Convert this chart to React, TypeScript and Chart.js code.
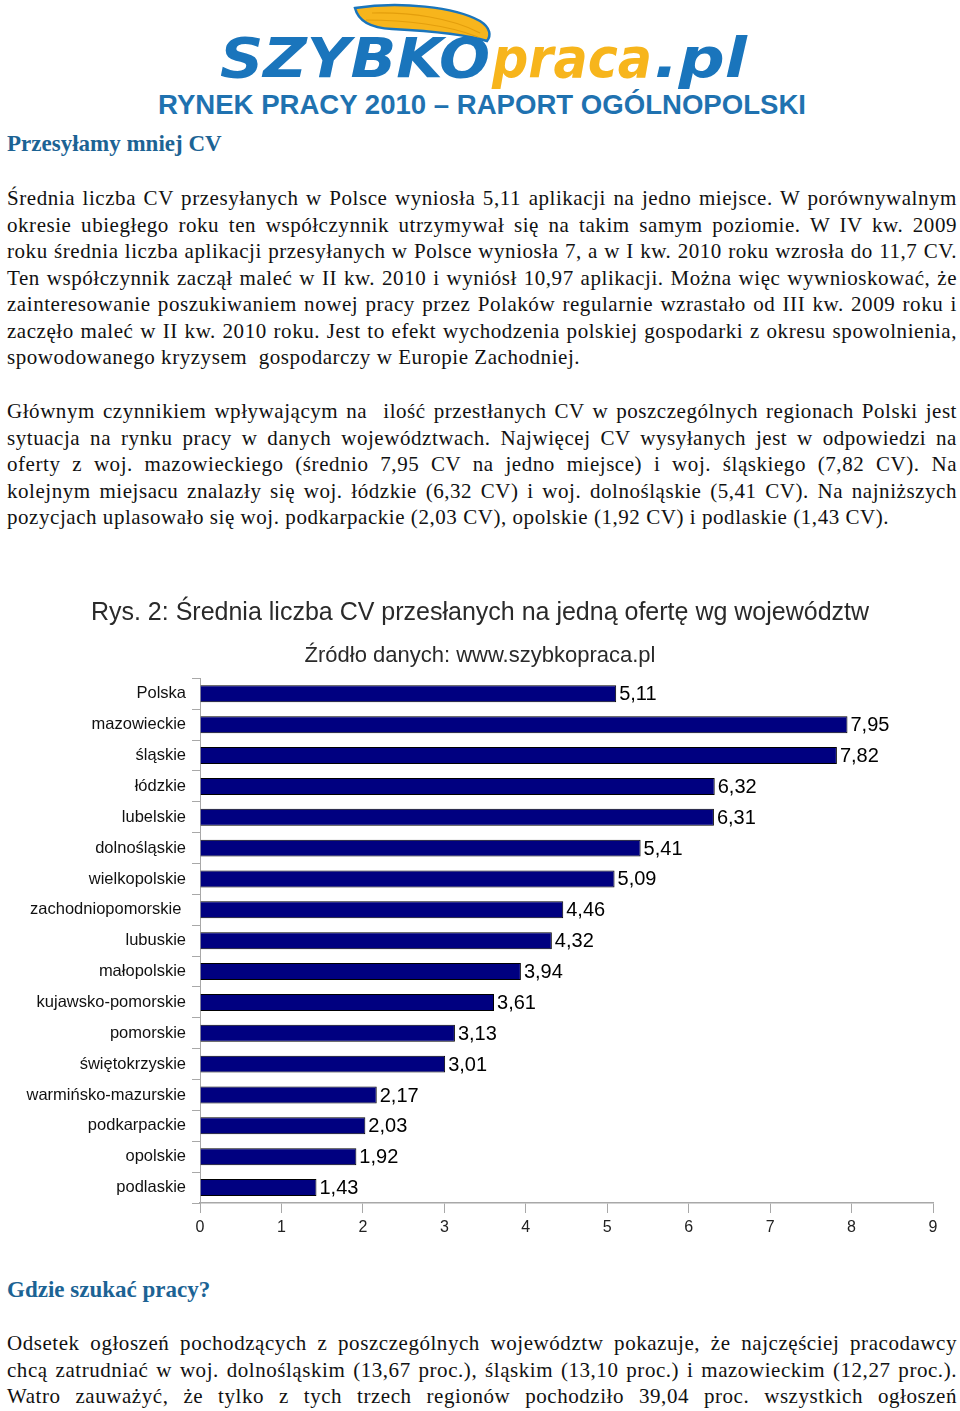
import React, { useEffect, useRef } from "react";
import { Chart, registerables } from "chart.js";

Chart.register(...registerables);

const categories = [
  "Polska", "mazowieckie", "śląskie", "łódzkie", "lubelskie", "dolnośląskie",
  "wielkopolskie", "zachodniopomorskie ", "lubuskie", "małopolskie",
  "kujawsko-pomorskie", "pomorskie", "świętokrzyskie", "warmińsko-mazurskie",
  "podkarpackie", "opolskie", "podlaskie",
];
const values = [5.11, 7.95, 7.82, 6.32, 6.31, 5.41, 5.09, 4.46, 4.32, 3.94, 3.61, 3.13, 3.01, 2.17, 2.03, 1.92, 1.43];
const xMin = 0;
const xMax = 9;
const chartTitle = "Rys. 2: Średnia liczba CV przesłanych na jedną ofertę wg województw";
const chartSubtitle = "Źródło danych: www.szybkopraca.pl";

const para1 = [
  "Średnia liczba CV przesyłanych w Polsce wyniosła 5,11 aplikacji na jedno miejsce. W porównywalnym",
  "okresie ubiegłego roku ten współczynnik utrzymywał się na takim samym poziomie. W IV kw. 2009",
  "roku średnia liczba aplikacji przesyłanych w Polsce wyniosła 7, a w I kw. 2010 roku wzrosła do 11,7 CV.",
  "Ten współczynnik zaczął maleć w II kw. 2010 i wyniósł 10,97 aplikacji. Można więc wywnioskować, że",
  "zainteresowanie poszukiwaniem nowej pracy przez Polaków regularnie wzrastało od III kw. 2009 roku i",
  "zaczęło maleć w II kw. 2010 roku. Jest to efekt wychodzenia polskiej gospodarki z okresu spowolnienia,",
  "spowodowanego kryzysem  gospodarczy w Europie Zachodniej.",
];
const para2 = [
  "Głównym czynnikiem wpływającym na  ilość przestłanych CV w poszczególnych regionach Polski jest",
  "sytuacja na rynku pracy w danych województwach. Najwięcej CV wysyłanych jest w odpowiedzi na",
  "oferty z woj. mazowieckiego (średnio 7,95 CV na jedno miejsce) i woj. śląskiego (7,82 CV). Na",
  "kolejnym miejsacu znalazły się woj. łódzkie (6,32 CV) i woj. dolnośląskie (5,41 CV). Na najniższych",
  "pozycjach uplasowało się woj. podkarpackie (2,03 CV), opolskie (1,92 CV) i podlaskie (1,43 CV).",
];
const para3 = [
  "Odsetek ogłoszeń pochodzących z poszczególnych województw pokazuje, że najczęściej pracodawcy",
  "chcą zatrudniać w woj. dolnośląskim (13,67 proc.), śląskim (13,10 proc.) i mazowieckim (12,27 proc.).",
  "Watro zauważyć, że tylko z tych trzech regionów pochodziło 39,04 proc. wszystkich ogłoszeń",
];

const SANS = "'Liberation Sans', Arial, sans-serif";
const SERIF = "'Liberation Serif', 'DejaVu Serif', serif";

const dataLabelPlugin = {
  id: "dataLabels",
  afterDatasetsDraw(chart: any) {
    const ctx = chart.ctx;
    const meta = chart.getDatasetMeta(0);
    ctx.save();
    ctx.font = `20px ${SANS}`;
    ctx.fillStyle = "#000";
    ctx.textAlign = "left";
    ctx.textBaseline = "middle";
    meta.data.forEach((bar: any, i: number) => {
      const v = chart.data.datasets[0].data[i] as number;
      ctx.fillText(v.toFixed(2).replace(".", ","), bar.x + 3, bar.y + 1);
    });
    ctx.restore();
  },
};

function BarChart() {
  const ref = useRef<HTMLCanvasElement>(null);
  useEffect(() => {
    if (!ref.current) return;
    const chart = new Chart(ref.current, {
      type: "bar",
      data: {
        labels: categories,
        datasets: [
          {
            data: values,
            backgroundColor: "#000080",
            borderColor: "#000000",
            borderWidth: 1,
            barPercentage: 0.55,
            categoryPercentage: 1,
          },
        ],
      },
      options: {
        indexAxis: "y",
        animation: false,
        responsive: false,
        maintainAspectRatio: false,
        layout: { padding: { left: 0, right: 0, top: 0, bottom: 0 } },
        plugins: {
          legend: { display: false },
          tooltip: { enabled: false },
          title: {
            display: true,
            text: chartTitle,
            color: "#2a2a2a",
            font: { family: SANS, size: 25, weight: "normal" },
            padding: { top: 8, bottom: 10 },
          },
          subtitle: {
            display: true,
            text: chartSubtitle,
            color: "#2a2a2a",
            font: { family: SANS, size: 22, weight: "normal" },
            padding: { top: 5, bottom: 9 },
          },
        },
        scales: {
          x: {
            type: "linear",
            min: xMin,
            max: xMax,
            ticks: { stepSize: 1, color: "#222", font: { family: SANS, size: 16 }, padding: 5 },
            grid: { drawOnChartArea: false, color: "#a8a8a8", tickLength: 10 },
            border: { color: "#a8a8a8", width: 1.5 },
            afterFit: (s: any) => { s.height = 47; s.paddingRight = 27; },
          },
          y: {
            type: "category",
            offset: true,
            ticks: { color: "#111", font: { family: SANS, size: 16.5 }, padding: 6 },
            grid: { drawOnChartArea: false, color: "#a8a8a8", tickLength: 8, offset: true },
            border: { color: "#a8a8a8", width: 1 },
            afterFit: (s: any) => { s.width = 200; },
          },
        },
      },
      plugins: [dataLabelPlugin],
    });
    return () => chart.destroy();
  }, []);
  return <canvas ref={ref} width={960} height={660} style={{ position: "absolute", left: 0, top: 590, width: 960, height: 660 }} />;
}

function Lines({ lines, top, justifyLast }: { lines: string[]; top: number; justifyLast: boolean }) {
  return (
    <>
      {lines.map((t, i) => {
        const last = i === lines.length - 1 && !justifyLast;
        return (
          <div
            key={i}
            style={{
              position: "absolute",
              left: 7,
              top: top + i * 26.5,
              width: 950,
              height: 26,
              lineHeight: "26px",
              fontFamily: SERIF,
              fontSize: 21,
              letterSpacing: "0.55px",
              color: "#111",
              whiteSpace: "pre",
              textAlign: last ? "left" : "justify",
              textAlignLast: last ? "left" : "justify",
            } as any}
          >
            {t}
          </div>
        );
      })}
    </>
  );
}

function Logo() {
  return (
    <svg width={960} height={130} style={{ position: "absolute", left: 0, top: 0 }}>
      <path
        d="M355 8 C 400 1, 455 7, 480 21 C 491 28, 491 36, 487 41 C 468 35, 430 31, 392 29 C 370 28, 358 20, 355 8 Z"
        fill="#f7b51c"
        stroke="#1a75bc"
        strokeWidth={2.5}
      />
      <path d="M372 13 C 410 12, 452 18, 480 33" fill="none" stroke="#e39e0c" strokeWidth={1.2} />
      <path d="M366 20 C 405 20, 448 25, 478 37" fill="none" stroke="#e39e0c" strokeWidth={1.2} />
      <text x={220} y={77} fontFamily="'DejaVu Sans', sans-serif" fontWeight="bold" fontStyle="italic" fontSize={56} fill="#1a75bc" textLength={270} lengthAdjust="spacingAndGlyphs">SZYBKO</text>
      <text x={492} y={77} fontFamily="'DejaVu Sans', sans-serif" fontWeight="bold" fontStyle="italic" fontSize={56} fill="#f7b51c" textLength={160} lengthAdjust="spacingAndGlyphs">praca</text>
      <text x={654} y={77} fontFamily="'DejaVu Sans', sans-serif" fontWeight="bold" fontStyle="italic" fontSize={56} fill="#1a75bc" textLength={93} lengthAdjust="spacingAndGlyphs">.pl</text>
      <text x={158} y={114} fontFamily={SANS} fontWeight="bold" fontSize={27} fill="#1f72b0" textLength={648} lengthAdjust="spacingAndGlyphs">RYNEK PRACY 2010 – RAPORT OGÓLNOPOLSKI</text>
    </svg>
  );
}

export default function App() {
  return (
    <div style={{ position: "absolute", left: 0, top: 0, width: 960, height: 1411, background: "#fff", overflow: "hidden" }}>
      <Logo />
      <div style={{ position: "absolute", left: 7, top: 130, fontFamily: SERIF, fontWeight: "bold", fontSize: 23, color: "#1c6394", lineHeight: "28px" }}>
        Przesyłamy mniej CV
      </div>
      <Lines lines={para1} top={185} justifyLast={false} />
      <Lines lines={para2} top={398} justifyLast={false} />
      <BarChart />
      <div style={{ position: "absolute", left: 7, top: 1276, fontFamily: SERIF, fontWeight: "bold", fontSize: 23, color: "#1c6394", lineHeight: "28px" }}>
        Gdzie szukać pracy?
      </div>
      <Lines lines={para3} top={1330} justifyLast={true} />
    </div>
  );
}
